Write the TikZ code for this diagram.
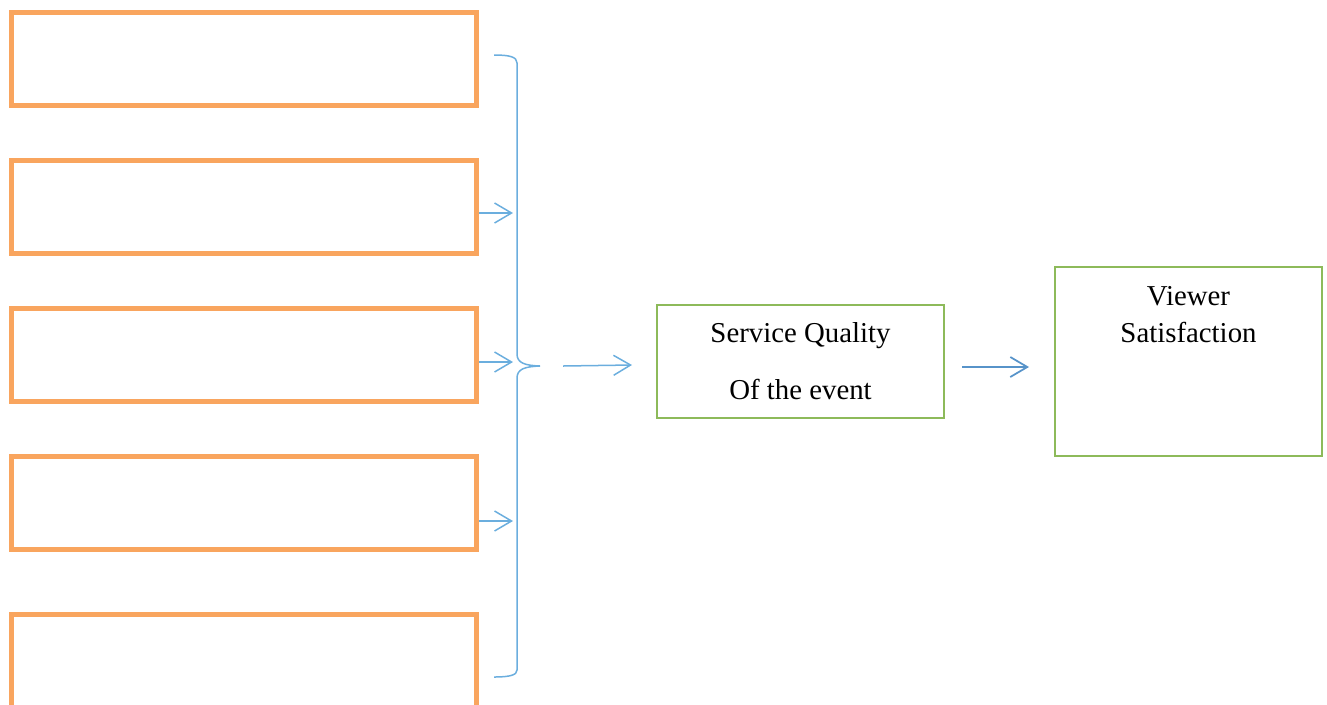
\documentclass[tikz,border=0pt]{standalone}
\usepackage{fontspec}
\setmainfont{Liberation Serif}
\usetikzlibrary{arrows.meta,positioning}
\definecolor{boxorange}{HTML}{F9A55E}
\definecolor{boxgreen}{HTML}{8DBA5A}
\definecolor{linkblue}{HTML}{6BAEDE}
\definecolor{darkblue}{HTML}{5793C9}
\tikzset{
  factor/.style={draw=boxorange, line width=0.1cm, minimum width=9.3cm, minimum height=1.86cm},
  result/.style={draw=boxgreen, line width=0.04cm, align=center},
  link/.style={draw=linkblue, line width=0.03cm, -{Straight Barb[length=0.34cm,width=0.4cm]}},
}

\begin{document}
\begin{tikzpicture}[node distance={2.96cm}]
\useasboundingbox (0,0) rectangle (26.54,-14.08);
\clip (0,0) rectangle (26.54,-14.08);

\node[factor] (f1) at (4.88,-1.18) {};
\node[factor] (f2) [below of=f1] {};
\node[factor] (f3) [below of=f2] {};
\node[factor] (f4) [below of=f3] {};
\node[factor] (f5) [below of=f4, yshift=-0.2cm] {};

\node[result, minimum width=5.74cm, minimum height=2.26cm, font=\fontsize{16.4}{32.3}\selectfont] (sq) at (16.01,-7.23) {Service Quality\\Of the event};
\node[result, minimum width=5.34cm, minimum height=3.78cm,
  label={[name=vstext, anchor=north, align=center, inner sep=0pt, yshift=-0.41cm, font=\fontsize{16.4}{21}\selectfont]north:Viewer\\Satisfaction}] (vs) at (23.77,-7.23) {};

% brace
\coordinate (tip) at (10.8,-7.32);
\draw[linkblue, line width=0.03cm] (9.88,-1.1) .. controls (10.2,-1.1) and (10.34,-1.14) .. (10.34,-1.26) -- (10.34,-7.08)
  .. controls (10.34,-7.26) and (10.5,-7.31) .. (tip)
  .. controls (10.5,-7.33) and (10.34,-7.38) .. (10.34,-7.56) -- (10.34,-13.4)
  .. controls (10.34,-13.5) and (10.2,-13.54) .. (9.88,-13.54);

\coordinate (b2) at (10.26,-4.26);
\coordinate (b3) at (10.26,-7.24);
\coordinate (b4) at (10.26,-10.42);
\draw[link] (f2.east |- b2) -- (b2);
\draw[link] (f3.east |- b3) -- (b3);
\draw[link] (f4.east |- b4) -- (b4);

\draw[link] ([xshift=0.46cm]tip) -- ([xshift=-0.48cm, yshift=-0.07cm]sq.west);
\draw[link, draw=darkblue, line width=0.035cm] ([xshift=0.34cm, yshift=-0.11cm]sq.east) -- ([xshift=-0.5cm, yshift=-0.11cm]vs.west);

\end{tikzpicture}
\end{document}
